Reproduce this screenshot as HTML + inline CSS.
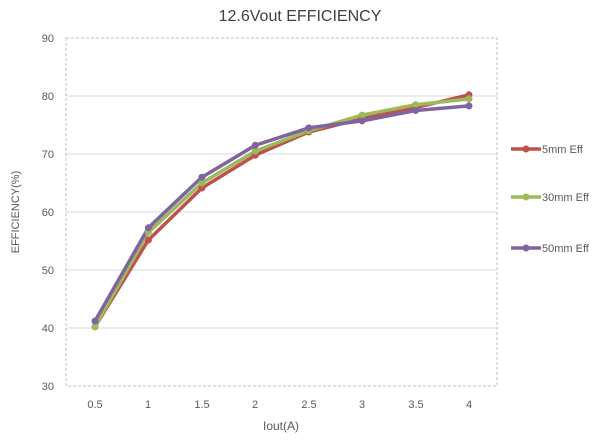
<!DOCTYPE html>
<html><head><style>body{margin:0;background:#fff}</style></head><body>
<svg width="600" height="439" xmlns="http://www.w3.org/2000/svg" font-family="Liberation Sans, DejaVu Sans, sans-serif">
<rect width="600" height="439" fill="#fff"/>
<text x="300" y="21" font-size="16" fill="#404040" text-anchor="middle">12.6Vout EFFICIENCY</text>
<g stroke="#d9d9d9" stroke-width="1">
<line x1="66" x2="497" y1="96" y2="96"/><line x1="66" x2="497" y1="154" y2="154"/>
<line x1="66" x2="497" y1="212" y2="212"/><line x1="66" x2="497" y1="270" y2="270"/>
<line x1="66" x2="497" y1="328" y2="328"/>
</g>
<rect x="66" y="38" width="431" height="348" fill="none" stroke="#bfbfbf" stroke-dasharray="3,2"/>
<g font-size="11" fill="#595959" text-anchor="end">
<text x="54" y="42">90</text><text x="54" y="100">80</text><text x="54" y="158">70</text>
<text x="54" y="216">60</text><text x="54" y="274">50</text><text x="54" y="332">40</text><text x="54" y="390">30</text>
</g>
<g font-size="11" fill="#595959" text-anchor="middle">
<text x="95" y="408">0.5</text><text x="148" y="408">1</text><text x="202" y="408">1.5</text><text x="255" y="408">2</text>
<text x="309" y="408">2.5</text><text x="362" y="408">3</text><text x="416" y="408">3.5</text><text x="469" y="408">4</text>
<text x="281" y="430" font-size="12">Iout(A)</text>
</g>
<text transform="translate(19,212) rotate(-90)" font-size="11" fill="#595959" text-anchor="middle">EFFICIENCY(%)</text>
<g fill="none" stroke-width="3.5" stroke-linejoin="round">
<polyline stroke="#c0504d" points="95,326.8 148.4,240 201.9,188 255.3,155.2 308.7,132 362.1,118.6 415.6,107.6 469,94.8"/>
<polyline stroke="#9bbb59" points="95,326.8 148.4,232.3 201.9,183 255.3,151.1 308.7,130.8 362.1,115.1 415.6,104.7 469,98.9"/>
<polyline stroke="#8064a2" points="95,321 148.4,227.7 201.9,177.2 255.3,145.3 308.7,127.9 362.1,120.9 415.6,110.5 469,105.9"/>
</g>
<g fill="#c0504d"><circle cx="95" cy="326.8" r="3.5"/><circle cx="148.4" cy="240" r="3.5"/><circle cx="201.9" cy="188" r="3.5"/><circle cx="255.3" cy="155.2" r="3.5"/><circle cx="308.7" cy="132" r="3.5"/><circle cx="362.1" cy="118.6" r="3.5"/><circle cx="415.6" cy="107.6" r="3.5"/><circle cx="469" cy="94.8" r="3.5"/></g>
<g fill="#9bbb59"><circle cx="95" cy="326.8" r="3.5"/><circle cx="148.4" cy="232.3" r="3.5"/><circle cx="201.9" cy="183" r="3.5"/><circle cx="255.3" cy="151.1" r="3.5"/><circle cx="308.7" cy="130.8" r="3.5"/><circle cx="362.1" cy="115.1" r="3.5"/><circle cx="415.6" cy="104.7" r="3.5"/><circle cx="469" cy="98.9" r="3.5"/></g>
<g fill="#8064a2"><circle cx="95" cy="321" r="3.5"/><circle cx="148.4" cy="227.7" r="3.5"/><circle cx="201.9" cy="177.2" r="3.5"/><circle cx="255.3" cy="145.3" r="3.5"/><circle cx="308.7" cy="127.9" r="3.5"/><circle cx="362.1" cy="120.9" r="3.5"/><circle cx="415.6" cy="110.5" r="3.5"/><circle cx="469" cy="105.9" r="3.5"/></g>
<g stroke-width="3.5">
<line x1="511" x2="541" y1="149" y2="149" stroke="#c0504d"/><circle cx="526" cy="149" r="3.5" fill="#c0504d"/>
<line x1="511" x2="541" y1="197" y2="197" stroke="#9bbb59"/><circle cx="526" cy="197" r="3.5" fill="#9bbb59"/>
<line x1="511" x2="541" y1="248" y2="248" stroke="#8064a2"/><circle cx="526" cy="248" r="3.5" fill="#8064a2"/>
</g>
<g font-size="11" fill="#595959">
<text x="542" y="153">5mm Eff</text><text x="542" y="201">30mm Eff</text><text x="542" y="252">50mm Eff</text>
</g>
</svg>
</body></html>
